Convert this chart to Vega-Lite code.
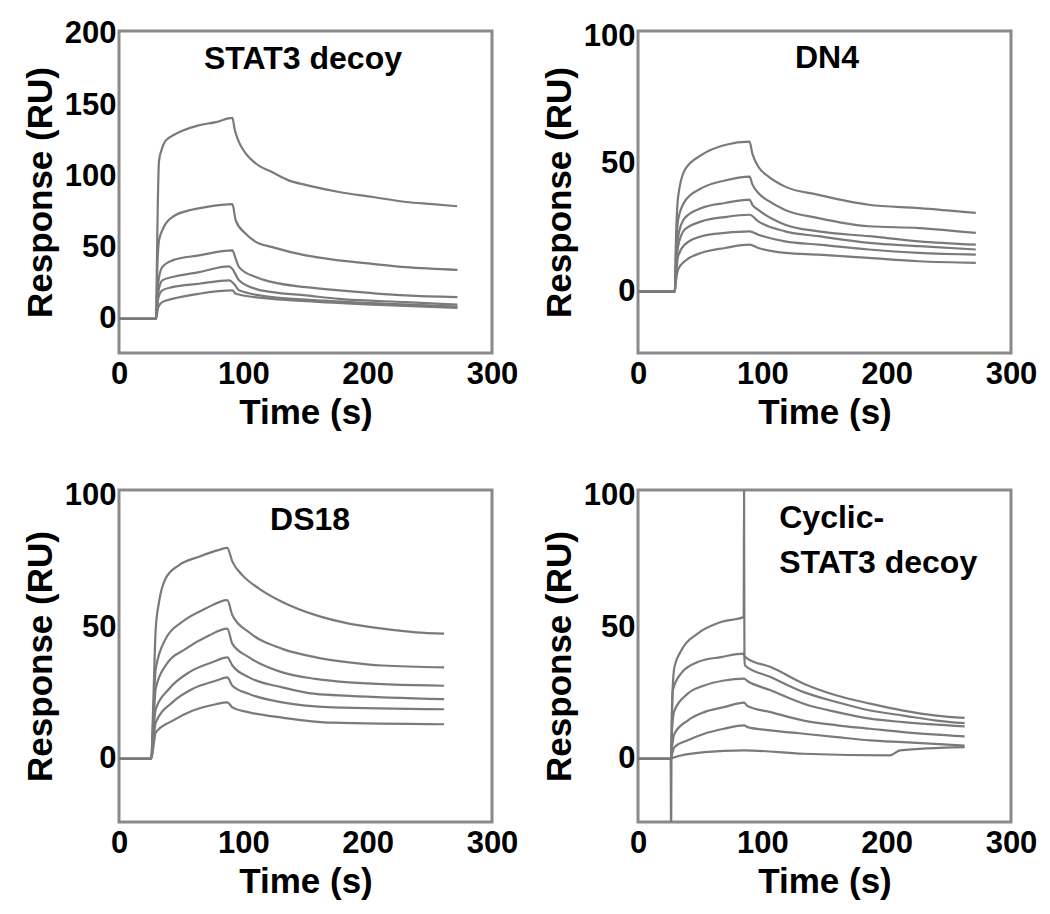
{
 "$schema": "https://vega.github.io/schema/vega-lite/v6.json",
 "background": "white",
 "padding": {"left": 21, "top": 16, "right": 5, "bottom": 5},
 "data": {"values": [
  {"p":1,"c":"A","t":0,"v":0},{"p":1,"c":"A","t":29.8,"v":0},{"p":1,"c":"A","t":30.5,"v":40},{"p":1,"c":"A","t":31.2,"v":80},{"p":1,"c":"A","t":32.2,"v":111},{"p":1,"c":"A","t":34,"v":118},{"p":1,"c":"A","t":37.5,"v":125},{"p":1,"c":"A","t":44,"v":129},{"p":1,"c":"A","t":51,"v":132},{"p":1,"c":"A","t":64,"v":135.8},{"p":1,"c":"A","t":78,"v":138},{"p":1,"c":"A","t":91.2,"v":141},{"p":1,"c":"A","t":93,"v":133},{"p":1,"c":"A","t":96.5,"v":124},{"p":1,"c":"A","t":102,"v":116},{"p":1,"c":"A","t":110,"v":109},{"p":1,"c":"A","t":123,"v":103},{"p":1,"c":"A","t":137,"v":97},{"p":1,"c":"A","t":150,"v":94},{"p":1,"c":"A","t":177,"v":89},{"p":1,"c":"A","t":204,"v":85.5},{"p":1,"c":"A","t":231,"v":82},{"p":1,"c":"A","t":252,"v":80.5},{"p":1,"c":"A","t":272,"v":79},
  {"p":1,"c":"B","t":0,"v":0},{"p":1,"c":"B","t":29.8,"v":0},{"p":1,"c":"B","t":31,"v":40},{"p":1,"c":"B","t":32.2,"v":55},{"p":1,"c":"B","t":34.8,"v":62},{"p":1,"c":"B","t":42.9,"v":71.4},{"p":1,"c":"B","t":56.3,"v":76.1},{"p":1,"c":"B","t":69.7,"v":78.4},{"p":1,"c":"B","t":91.2,"v":80.5},{"p":1,"c":"B","t":93.9,"v":69},{"p":1,"c":"B","t":101.9,"v":59.7},{"p":1,"c":"B","t":110,"v":54},{"p":1,"c":"B","t":123.3,"v":50.3},{"p":1,"c":"B","t":150.2,"v":44.5},{"p":1,"c":"B","t":177,"v":41},{"p":1,"c":"B","t":203.8,"v":38.6},{"p":1,"c":"B","t":230.6,"v":36.3},{"p":1,"c":"B","t":272.2,"v":34.4},
  {"p":1,"c":"C","t":0,"v":0},{"p":1,"c":"C","t":29.8,"v":0},{"p":1,"c":"C","t":31.5,"v":25},{"p":1,"c":"C","t":34.8,"v":36.3},{"p":1,"c":"C","t":42.9,"v":41},{"p":1,"c":"C","t":64.4,"v":44.5},{"p":1,"c":"C","t":91.2,"v":48},{"p":1,"c":"C","t":93.9,"v":42},{"p":1,"c":"C","t":96.5,"v":36.3},{"p":1,"c":"C","t":109.9,"v":29.3},{"p":1,"c":"C","t":123.3,"v":25.7},{"p":1,"c":"C","t":150.2,"v":22.2},{"p":1,"c":"C","t":177,"v":19.9},{"p":1,"c":"C","t":203.8,"v":18},{"p":1,"c":"C","t":230.6,"v":16.4},{"p":1,"c":"C","t":272.2,"v":15.2},
  {"p":1,"c":"D","t":0,"v":0},{"p":1,"c":"D","t":29.8,"v":0},{"p":1,"c":"D","t":31.5,"v":18},{"p":1,"c":"D","t":34.8,"v":27},{"p":1,"c":"D","t":42.9,"v":29.3},{"p":1,"c":"D","t":64.4,"v":32.8},{"p":1,"c":"D","t":88.5,"v":36.8},{"p":1,"c":"D","t":91.2,"v":35},{"p":1,"c":"D","t":96.5,"v":27},{"p":1,"c":"D","t":109.9,"v":21},{"p":1,"c":"D","t":123.3,"v":18.7},{"p":1,"c":"D","t":150.2,"v":16.4},{"p":1,"c":"D","t":177,"v":14},{"p":1,"c":"D","t":230.6,"v":11.7},{"p":1,"c":"D","t":272.2,"v":10},
  {"p":1,"c":"E","t":0,"v":0},{"p":1,"c":"E","t":29.8,"v":0},{"p":1,"c":"E","t":31.5,"v":14},{"p":1,"c":"E","t":34.8,"v":20},{"p":1,"c":"E","t":42.9,"v":22.2},{"p":1,"c":"E","t":64.4,"v":24.6},{"p":1,"c":"E","t":88.5,"v":27},{"p":1,"c":"E","t":93,"v":24},{"p":1,"c":"E","t":96.5,"v":20},{"p":1,"c":"E","t":123.3,"v":15.2},{"p":1,"c":"E","t":150.2,"v":13.4},{"p":1,"c":"E","t":203.8,"v":11},{"p":1,"c":"E","t":272.2,"v":8.6},
  {"p":1,"c":"F","t":0,"v":0},{"p":1,"c":"F","t":29.8,"v":0},{"p":1,"c":"F","t":31.5,"v":8},{"p":1,"c":"F","t":34.8,"v":11.7},{"p":1,"c":"F","t":42.9,"v":14},{"p":1,"c":"F","t":64.4,"v":17.6},{"p":1,"c":"F","t":91.2,"v":19.9},{"p":1,"c":"F","t":93.9,"v":17.6},{"p":1,"c":"F","t":123.3,"v":14},{"p":1,"c":"F","t":150.2,"v":12.4},{"p":1,"c":"F","t":203.8,"v":10},{"p":1,"c":"F","t":272.2,"v":7.7},

  {"p":2,"c":"A","t":0,"v":0},{"p":2,"c":"A","t":29.6,"v":0},{"p":2,"c":"A","t":30.5,"v":20},{"p":2,"c":"A","t":32.3,"v":37.2},{"p":2,"c":"A","t":37.6,"v":47.6},{"p":2,"c":"A","t":51.1,"v":53.5},{"p":2,"c":"A","t":69.9,"v":57.4},{"p":2,"c":"A","t":89.7,"v":58.7},{"p":2,"c":"A","t":92,"v":54},{"p":2,"c":"A","t":96.8,"v":48.9},{"p":2,"c":"A","t":105,"v":45},{"p":2,"c":"A","t":118.3,"v":41.1},{"p":2,"c":"A","t":145.2,"v":37.9},{"p":2,"c":"A","t":185.6,"v":34},{"p":2,"c":"A","t":226,"v":32.7},{"p":2,"c":"A","t":271.7,"v":30.8},
  {"p":2,"c":"B","t":0,"v":0},{"p":2,"c":"B","t":29.6,"v":0},{"p":2,"c":"B","t":30.5,"v":15},{"p":2,"c":"B","t":32.3,"v":28.2},{"p":2,"c":"B","t":37.6,"v":35.3},{"p":2,"c":"B","t":51.1,"v":40.5},{"p":2,"c":"B","t":69.9,"v":43.5},{"p":2,"c":"B","t":89.7,"v":45},{"p":2,"c":"B","t":92,"v":42},{"p":2,"c":"B","t":96.8,"v":38.6},{"p":2,"c":"B","t":105,"v":35.5},{"p":2,"c":"B","t":118.3,"v":32},{"p":2,"c":"B","t":145.2,"v":28.8},{"p":2,"c":"B","t":185.6,"v":25.6},{"p":2,"c":"B","t":226,"v":24.9},{"p":2,"c":"B","t":271.7,"v":23},
  {"p":2,"c":"C","t":0,"v":0},{"p":2,"c":"C","t":29.6,"v":0},{"p":2,"c":"C","t":30.5,"v":10},{"p":2,"c":"C","t":32.3,"v":21.7},{"p":2,"c":"C","t":37.6,"v":28.8},{"p":2,"c":"C","t":51.1,"v":32.7},{"p":2,"c":"C","t":69.9,"v":34.7},{"p":2,"c":"C","t":89.7,"v":36},{"p":2,"c":"C","t":92,"v":34},{"p":2,"c":"C","t":96.8,"v":32},{"p":2,"c":"C","t":118.3,"v":26.2},{"p":2,"c":"C","t":145.2,"v":23.6},{"p":2,"c":"C","t":185.6,"v":21.7},{"p":2,"c":"C","t":226,"v":19.7},{"p":2,"c":"C","t":271.7,"v":18.4},
  {"p":2,"c":"D","t":0,"v":0},{"p":2,"c":"D","t":29.6,"v":0},{"p":2,"c":"D","t":30.5,"v":8},{"p":2,"c":"D","t":32.3,"v":17.8},{"p":2,"c":"D","t":37.6,"v":24.3},{"p":2,"c":"D","t":51.1,"v":27.5},{"p":2,"c":"D","t":69.9,"v":29.2},{"p":2,"c":"D","t":89.7,"v":30.1},{"p":2,"c":"D","t":96.8,"v":27.5},{"p":2,"c":"D","t":118.3,"v":23.6},{"p":2,"c":"D","t":145.2,"v":21.7},{"p":2,"c":"D","t":185.6,"v":19.1},{"p":2,"c":"D","t":226,"v":17.8},{"p":2,"c":"D","t":271.7,"v":16.5},
  {"p":2,"c":"E","t":0,"v":0},{"p":2,"c":"E","t":29.6,"v":0},{"p":2,"c":"E","t":30.5,"v":6},{"p":2,"c":"E","t":32.3,"v":13.9},{"p":2,"c":"E","t":37.6,"v":18.4},{"p":2,"c":"E","t":51.1,"v":21.7},{"p":2,"c":"E","t":69.9,"v":23},{"p":2,"c":"E","t":89.7,"v":23.6},{"p":2,"c":"E","t":96.8,"v":22.3},{"p":2,"c":"E","t":118.3,"v":19.7},{"p":2,"c":"E","t":145.2,"v":18.4},{"p":2,"c":"E","t":185.6,"v":16.5},{"p":2,"c":"E","t":226,"v":15.2},{"p":2,"c":"E","t":271.7,"v":14.5},
  {"p":2,"c":"F","t":0,"v":0},{"p":2,"c":"F","t":29.6,"v":0},{"p":2,"c":"F","t":30.5,"v":4},{"p":2,"c":"F","t":32.3,"v":8.7},{"p":2,"c":"F","t":37.6,"v":11.9},{"p":2,"c":"F","t":51.1,"v":15.2},{"p":2,"c":"F","t":69.9,"v":17.1},{"p":2,"c":"F","t":89.7,"v":18.4},{"p":2,"c":"F","t":96.8,"v":17.1},{"p":2,"c":"F","t":118.3,"v":15.2},{"p":2,"c":"F","t":145.2,"v":14.5},{"p":2,"c":"F","t":185.6,"v":13.2},{"p":2,"c":"F","t":226,"v":11.9},{"p":2,"c":"F","t":271.7,"v":11.3},

  {"p":3,"c":"A","t":0,"v":0},{"p":3,"c":"A","t":26,"v":0},{"p":3,"c":"A","t":27.5,"v":20},{"p":3,"c":"A","t":29.5,"v":49},{"p":3,"c":"A","t":32.2,"v":59.5},{"p":3,"c":"A","t":37.5,"v":68.4},{"p":3,"c":"A","t":48.3,"v":73.5},{"p":3,"c":"A","t":64.4,"v":76.7},{"p":3,"c":"A","t":80.5,"v":79.3},{"p":3,"c":"A","t":87.1,"v":80},{"p":3,"c":"A","t":91.2,"v":74.8},{"p":3,"c":"A","t":99.2,"v":69.7},{"p":3,"c":"A","t":112.6,"v":64.6},{"p":3,"c":"A","t":131.4,"v":59.5},{"p":3,"c":"A","t":158.2,"v":54.5},{"p":3,"c":"A","t":185,"v":51.3},{"p":3,"c":"A","t":211.8,"v":49.4},{"p":3,"c":"A","t":238.7,"v":48},{"p":3,"c":"A","t":261.5,"v":47.5},
  {"p":3,"c":"B","t":0,"v":0},{"p":3,"c":"B","t":26,"v":0},{"p":3,"c":"B","t":27.5,"v":15},{"p":3,"c":"B","t":29.5,"v":34},{"p":3,"c":"B","t":37.5,"v":45.5},{"p":3,"c":"B","t":50.9,"v":52},{"p":3,"c":"B","t":69.7,"v":57},{"p":3,"c":"B","t":87.1,"v":60.2},{"p":3,"c":"B","t":91.2,"v":54.5},{"p":3,"c":"B","t":104.6,"v":48},{"p":3,"c":"B","t":131.4,"v":41.7},{"p":3,"c":"B","t":158.2,"v":38.5},{"p":3,"c":"B","t":185,"v":36.6},{"p":3,"c":"B","t":211.8,"v":35.4},{"p":3,"c":"B","t":261.5,"v":34.7},
  {"p":3,"c":"C","t":0,"v":0},{"p":3,"c":"C","t":26,"v":0},{"p":3,"c":"C","t":27.5,"v":12},{"p":3,"c":"C","t":29.5,"v":26.5},{"p":3,"c":"C","t":37.5,"v":35.4},{"p":3,"c":"C","t":53.6,"v":41.7},{"p":3,"c":"C","t":72.4,"v":46.8},{"p":3,"c":"C","t":87.1,"v":49.4},{"p":3,"c":"C","t":91.2,"v":43.6},{"p":3,"c":"C","t":104.6,"v":38.5},{"p":3,"c":"C","t":131.4,"v":32.8},{"p":3,"c":"C","t":158.2,"v":30.3},{"p":3,"c":"C","t":185,"v":29},{"p":3,"c":"C","t":261.5,"v":27.7},
  {"p":3,"c":"D","t":0,"v":0},{"p":3,"c":"D","t":26,"v":0},{"p":3,"c":"D","t":27.5,"v":9},{"p":3,"c":"D","t":29.5,"v":18.8},{"p":3,"c":"D","t":40.2,"v":26.5},{"p":3,"c":"D","t":56.3,"v":32.8},{"p":3,"c":"D","t":75,"v":36.6},{"p":3,"c":"D","t":87.1,"v":38.5},{"p":3,"c":"D","t":91.2,"v":35.4},{"p":3,"c":"D","t":104.6,"v":30.9},{"p":3,"c":"D","t":131.4,"v":27.1},{"p":3,"c":"D","t":158.2,"v":24.6},{"p":3,"c":"D","t":185,"v":23.9},{"p":3,"c":"D","t":261.5,"v":22.6},
  {"p":3,"c":"E","t":0,"v":0},{"p":3,"c":"E","t":26,"v":0},{"p":3,"c":"E","t":27.5,"v":6},{"p":3,"c":"E","t":29.5,"v":13.7},{"p":3,"c":"E","t":42.9,"v":21.4},{"p":3,"c":"E","t":59,"v":26.5},{"p":3,"c":"E","t":77.8,"v":29.6},{"p":3,"c":"E","t":87.1,"v":30.9},{"p":3,"c":"E","t":91.2,"v":27.7},{"p":3,"c":"E","t":104.6,"v":24.6},{"p":3,"c":"E","t":131.4,"v":21.4},{"p":3,"c":"E","t":171.6,"v":19.5},{"p":3,"c":"E","t":261.5,"v":18.8},
  {"p":3,"c":"F","t":0,"v":0},{"p":3,"c":"F","t":26,"v":0},{"p":3,"c":"F","t":27.5,"v":4},{"p":3,"c":"F","t":29.5,"v":9.9},{"p":3,"c":"F","t":42.9,"v":14.4},{"p":3,"c":"F","t":59,"v":18.2},{"p":3,"c":"F","t":77.8,"v":20.7},{"p":3,"c":"F","t":87.1,"v":21.4},{"p":3,"c":"F","t":91.2,"v":19.5},{"p":3,"c":"F","t":104.6,"v":17.6},{"p":3,"c":"F","t":131.4,"v":15.6},{"p":3,"c":"F","t":171.6,"v":13.7},{"p":3,"c":"F","t":261.5,"v":13.1},

  {"p":4,"c":"A","t":0,"v":0},{"p":4,"c":"A","t":26.3,"v":0},{"p":4,"c":"A","t":26.6,"v":-35},{"p":4,"c":"A","t":26.9,"v":0},{"p":4,"c":"A","t":27.5,"v":22},{"p":4,"c":"A","t":29.3,"v":34.8},{"p":4,"c":"A","t":34.7,"v":41},{"p":4,"c":"A","t":48,"v":47.5},{"p":4,"c":"A","t":66.7,"v":51.9},{"p":4,"c":"A","t":85,"v":53.8},{"p":4,"c":"A","t":85.3,"v":104},{"p":4,"c":"A","t":85.6,"v":39.2},{"p":4,"c":"A","t":88,"v":38},{"p":4,"c":"A","t":106.7,"v":34.8},{"p":4,"c":"A","t":133.3,"v":28.5},{"p":4,"c":"A","t":160,"v":24},{"p":4,"c":"A","t":186.7,"v":20.9},{"p":4,"c":"A","t":213.3,"v":18.3},{"p":4,"c":"A","t":240,"v":16.4},{"p":4,"c":"A","t":262.7,"v":15.5},
  {"p":4,"c":"B","t":0,"v":0},{"p":4,"c":"B","t":26.5,"v":0},{"p":4,"c":"B","t":27.5,"v":20},{"p":4,"c":"B","t":28,"v":26},{"p":4,"c":"B","t":34.7,"v":32.4},{"p":4,"c":"B","t":48,"v":36.7},{"p":4,"c":"B","t":66.7,"v":38.6},{"p":4,"c":"B","t":85.3,"v":39.9},{"p":4,"c":"B","t":86,"v":35.4},{"p":4,"c":"B","t":106.7,"v":31},{"p":4,"c":"B","t":133.3,"v":25.3},{"p":4,"c":"B","t":160,"v":21.5},{"p":4,"c":"B","t":186.7,"v":18.3},{"p":4,"c":"B","t":213.3,"v":16.4},{"p":4,"c":"B","t":240,"v":14.5},{"p":4,"c":"B","t":262.7,"v":13.5},
  {"p":4,"c":"C","t":0,"v":0},{"p":4,"c":"C","t":26.5,"v":0},{"p":4,"c":"C","t":27.5,"v":12},{"p":4,"c":"C","t":29.3,"v":18.3},{"p":4,"c":"C","t":40,"v":24.7},{"p":4,"c":"C","t":53.3,"v":27.8},{"p":4,"c":"C","t":69.3,"v":29.7},{"p":4,"c":"C","t":85.3,"v":30.4},{"p":4,"c":"C","t":88,"v":29.5},{"p":4,"c":"C","t":106.7,"v":26},{"p":4,"c":"C","t":133.3,"v":20.9},{"p":4,"c":"C","t":160,"v":17.7},{"p":4,"c":"C","t":186.7,"v":15.2},{"p":4,"c":"C","t":213.3,"v":13.9},{"p":4,"c":"C","t":262.7,"v":12.3},
  {"p":4,"c":"D","t":0,"v":0},{"p":4,"c":"D","t":26.5,"v":0},{"p":4,"c":"D","t":27.5,"v":5},{"p":4,"c":"D","t":29.3,"v":9.5},{"p":4,"c":"D","t":40,"v":14.5},{"p":4,"c":"D","t":53.3,"v":17.7},{"p":4,"c":"D","t":69.3,"v":19.6},{"p":4,"c":"D","t":85.3,"v":21.3},{"p":4,"c":"D","t":88,"v":20},{"p":4,"c":"D","t":106.7,"v":17.7},{"p":4,"c":"D","t":133.3,"v":14.5},{"p":4,"c":"D","t":160,"v":12.7},{"p":4,"c":"D","t":186.7,"v":11.4},{"p":4,"c":"D","t":213.3,"v":10.1},{"p":4,"c":"D","t":262.7,"v":8.5},
  {"p":4,"c":"E","t":0,"v":0},{"p":4,"c":"E","t":26.5,"v":0},{"p":4,"c":"E","t":27.5,"v":2},{"p":4,"c":"E","t":29.3,"v":4.4},{"p":4,"c":"E","t":40,"v":7},{"p":4,"c":"E","t":53.3,"v":9.5},{"p":4,"c":"E","t":69.3,"v":11.4},{"p":4,"c":"E","t":85.3,"v":12.7},{"p":4,"c":"E","t":88,"v":12},{"p":4,"c":"E","t":106.7,"v":10.8},{"p":4,"c":"E","t":133.3,"v":9.5},{"p":4,"c":"E","t":160,"v":8.2},{"p":4,"c":"E","t":186.7,"v":7},{"p":4,"c":"E","t":213.3,"v":6.3},{"p":4,"c":"E","t":262.7,"v":5},
  {"p":4,"c":"F","t":0,"v":0},{"p":4,"c":"F","t":26.5,"v":0},{"p":4,"c":"F","t":29.3,"v":0.6},{"p":4,"c":"F","t":53.3,"v":2.5},{"p":4,"c":"F","t":85.3,"v":3.2},{"p":4,"c":"F","t":133.3,"v":1.9},{"p":4,"c":"F","t":202.7,"v":1.3},{"p":4,"c":"F","t":210.7,"v":3.2},{"p":4,"c":"F","t":262.7,"v":4.4}
 ]},
 "columns": 2,
 "spacing": {"row": 45, "column": 20},
 "concat": [
  {"width": 373, "height": 322, "layer": [
   {"transform": [{"filter": "datum.p == 1"}],
    "mark": {"type": "line", "color": "#7a7a7a", "strokeWidth": 2.2, "clip": true, "interpolate": "monotone"},
    "encoding": {
     "x": {"field": "t", "type": "quantitative", "scale": {"domain": [0, 300], "nice": false}, "axis": {"values": [0, 100, 200, 300], "title": "Time (s)"}},
     "y": {"field": "v", "type": "quantitative", "scale": {"domain": [-24, 202], "nice": false, "zero": false}, "axis": {"values": [0, 50, 100, 150, 200], "title": "Response (RU)"}},
     "detail": {"field": "c"}}},
   {"data": {"values": [{}]}, "mark": {"type": "text", "text": "STAT3 decoy", "align": "center", "baseline": "alphabetic"},
    "encoding": {"x": {"datum": 148}, "y": {"datum": 175}}}
  ]},
  {"width": 373, "height": 322, "layer": [
   {"transform": [{"filter": "datum.p == 2"}],
    "mark": {"type": "line", "color": "#7a7a7a", "strokeWidth": 2.2, "clip": true, "interpolate": "monotone"},
    "encoding": {
     "x": {"field": "t", "type": "quantitative", "scale": {"domain": [0, 300], "nice": false}, "axis": {"values": [0, 100, 200, 300], "title": "Time (s)"}},
     "y": {"field": "v", "type": "quantitative", "scale": {"domain": [-24, 102], "nice": false, "zero": false}, "axis": {"values": [0, 50, 100], "title": "Response (RU)"}},
     "detail": {"field": "c"}}},
   {"data": {"values": [{}]}, "mark": {"type": "text", "text": "DN4", "align": "center", "baseline": "alphabetic"},
    "encoding": {"x": {"datum": 152}, "y": {"datum": 87.4}}}
  ]},
  {"width": 373, "height": 332, "layer": [
   {"transform": [{"filter": "datum.p == 3"}],
    "mark": {"type": "line", "color": "#7a7a7a", "strokeWidth": 2.2, "clip": true, "interpolate": "monotone"},
    "encoding": {
     "x": {"field": "t", "type": "quantitative", "scale": {"domain": [0, 300], "nice": false}, "axis": {"values": [0, 100, 200, 300], "title": "Time (s)"}},
     "y": {"field": "v", "type": "quantitative", "scale": {"domain": [-24, 102], "nice": false, "zero": false}, "axis": {"values": [0, 50, 100], "title": "Response (RU)"}},
     "detail": {"field": "c"}}},
   {"data": {"values": [{}]}, "mark": {"type": "text", "text": "DS18", "align": "center", "baseline": "alphabetic"},
    "encoding": {"x": {"datum": 153.7}, "y": {"datum": 87}}}
  ]},
  {"width": 373, "height": 332, "layer": [
   {"transform": [{"filter": "datum.p == 4"}],
    "mark": {"type": "line", "color": "#7a7a7a", "strokeWidth": 2.2, "clip": true, "interpolate": "monotone"},
    "encoding": {
     "x": {"field": "t", "type": "quantitative", "scale": {"domain": [0, 300], "nice": false}, "axis": {"values": [0, 100, 200, 300], "title": "Time (s)"}},
     "y": {"field": "v", "type": "quantitative", "scale": {"domain": [-24, 102], "nice": false, "zero": false}, "axis": {"values": [0, 50, 100], "title": "Response (RU)"}},
     "detail": {"field": "c"}}},
   {"data": {"values": [{}]}, "mark": {"type": "text", "text": "Cyclic-", "align": "left", "baseline": "alphabetic"},
    "encoding": {"x": {"datum": 113.6}, "y": {"datum": 87.5}}},
   {"data": {"values": [{}]}, "mark": {"type": "text", "text": "STAT3 decoy", "align": "left", "baseline": "alphabetic"},
    "encoding": {"x": {"datum": 113.6}, "y": {"datum": 70.4}}}
  ]}
 ],
 "config": {
  "view": {"stroke": "#8a8a8a", "strokeWidth": 3},
  "axis": {"grid": false, "ticks": false, "domain": false, "labelFont": "Liberation Sans", "labelFontSize": 31, "labelFontWeight": "bold", "labelColor": "#000000", "labelFlush": false, "labelOverlap": false, "titleFont": "Liberation Sans", "titleFontSize": 35, "titleFontWeight": "bold", "titleColor": "#000000"},
  "axisX": {"labelPadding": 6, "titlePadding": 6},
  "axisY": {"labelPadding": 3, "titlePadding": 6},
  "text": {"font": "Liberation Sans", "fontSize": 32, "fontWeight": "bold", "color": "#000000"}
 }
}
